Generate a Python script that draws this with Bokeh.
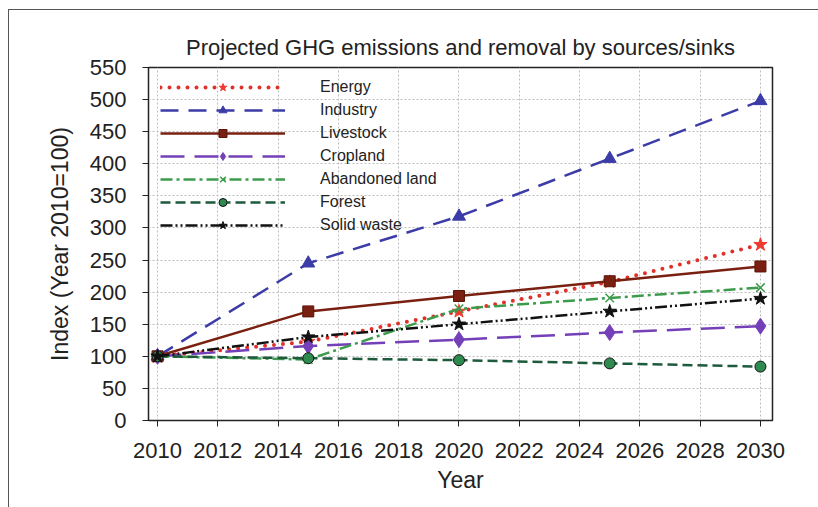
from bokeh.plotting import figure
from bokeh.models import FixedTicker
from bokeh.embed import file_html
from bokeh.resources import INLINE

years = [2010, 2015, 2020, 2025, 2030]
energy = [100, 123, 170, 216, 274]
industry = [100, 245, 318, 408, 498]
livestock = [100, 170, 194, 217, 240]
cropland = [100, 116, 126, 137, 147]
abandoned = [100, 95, 174, 191, 207]
forest = [100, 97, 94, 89, 84]
solid_waste = [100, 130, 150, 170, 190]

x_ticks = list(range(2010, 2031, 2))
y_ticks = list(range(0, 551, 50))

FONT = "Liberation Sans"

p = figure(width=818, height=507, x_range=(2009.7, 2030.4), y_range=(0, 550),
           output_backend="svg", toolbar_location=None,
           min_border_left=148, min_border_right=46, min_border_top=67, min_border_bottom=87)
p.border_fill_alpha = 0
p.background_fill_color = "white"
p.styles = {
    "background": "linear-gradient(#555,#555) 8px 9px / 100% 1px no-repeat, "
                  "linear-gradient(#555,#555) 8px 9px / 1px 100% no-repeat, white"
}

p.title.text = "Projected GHG emissions and removal by sources/sinks"
p.title.align = "center"
p.title.text_font = FONT
p.title.text_font_size = "22px"
p.title.text_font_style = "normal"
p.title.text_color = "#222222"
p.title.standoff = 15

p.outline_line_color = "#222222"
p.outline_line_width = 1.5

for ax in (p.xaxis[0], p.yaxis[0]):
    ax.major_label_text_font = FONT
    ax.major_label_text_font_size = "22px"
    ax.major_label_text_color = "#222222"
    ax.axis_label_text_font = FONT
    ax.axis_label_text_font_size = "23px"
    ax.axis_label_text_font_style = "normal"
    ax.axis_label_text_color = "#222222"
    ax.minor_tick_line_color = None
    ax.major_tick_in = 0
    ax.major_tick_out = 6
    ax.axis_line_color = "#222222"
    ax.major_tick_line_color = "#222222"

p.xaxis.ticker = FixedTicker(ticks=x_ticks)
p.yaxis.ticker = FixedTicker(ticks=y_ticks)
p.xaxis.axis_label = "Year"
p.yaxis.axis_label = "Index (Year 2010=100)"
p.xaxis.major_label_standoff = 16
p.yaxis.major_label_standoff = 16
p.xaxis.axis_label_standoff = 6
p.yaxis.axis_label_standoff = 14

for g in (p.xgrid[0], p.ygrid[0]):
    g.grid_line_color = "#bdbdbd"
    g.grid_line_dash = "2 2"
    g.grid_line_width = 1

# Energy
p.line(years, energy, line_color="#e0302a", line_width=4, line_dash="0 9",
       line_cap="round", legend_label="Energy")
p.scatter(years, energy, marker="star", size=14, fill_color="#f03a30",
          line_color="#f03a30", legend_label="Energy")
# Industry
p.line(years, industry, line_color="#3c3ca8", line_width=2.5, line_dash="18 10",
       legend_label="Industry")
p.scatter(years, industry, marker="triangle", size=13, fill_color="#3c3ca8",
          line_color="#3c3ca8", legend_label="Industry")
# Livestock
p.line(years, livestock, line_color="#7a2010", line_width=2.5, legend_label="Livestock")
p.scatter(years, livestock, marker="square", size=11, fill_color="#7a2010",
          line_color="#5a1508", legend_label="Livestock")
# Cropland
p.line(years, cropland, line_color="#7440b8", line_width=2.5, line_dash="24 10",
       legend_label="Cropland")
p.scatter(years, cropland, marker="diamond", size=16, fill_color="#7440b8",
          line_color="#7440b8", legend_label="Cropland")
# Abandoned land
p.line(years, abandoned, line_color="#3c9c4c", line_width=2.5, line_dash="12 4 3 4",
       legend_label="Abandoned land")
p.scatter(years, abandoned, marker="x", size=12, line_color="#3c9c4c", line_width=1.5,
          legend_label="Abandoned land")
# Forest
p.line(years, forest, line_color="#1e5a3c", line_width=2.5, line_dash="10 5",
       legend_label="Forest")
p.scatter(years, forest, marker="circle", size=11, fill_color="#2f8a50",
          line_color="#111111", legend_label="Forest")
# Solid waste
p.line(years, solid_waste, line_color="#111111", line_width=2.5,
       line_dash="12 3 2 3 2 3", legend_label="Solid waste")
p.scatter(years, solid_waste, marker="star", size=14, fill_color="#111111",
          line_color="#111111", legend_label="Solid waste")

lg = p.legend[0]
lg.location = (12, 185)
lg.margin = 0
lg.padding = 0
lg.spacing = 3
lg.glyph_width = 125
lg.glyph_height = 20
lg.label_height = 20
lg.label_standoff = 35
lg.label_text_font = FONT
lg.label_text_font_size = "16px"
lg.label_text_color = "#222222"
lg.background_fill_alpha = 0
lg.border_line_color = None

open("out.html", "w").write(file_html(p, INLINE))
